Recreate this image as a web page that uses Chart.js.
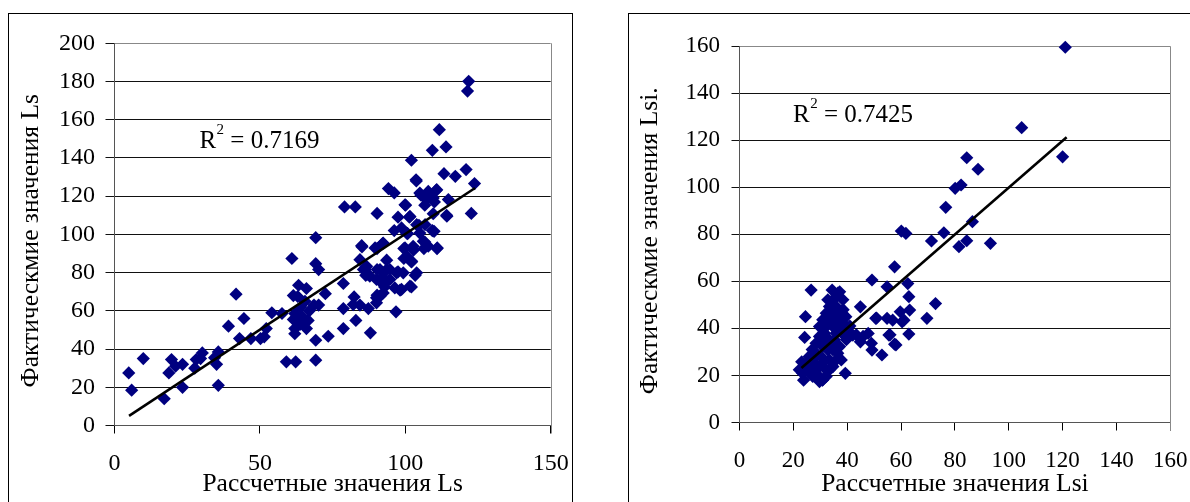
<!DOCTYPE html>
<html><head><meta charset="utf-8">
<script src="https://cdn.jsdelivr.net/npm/chart.js@4.4.1/dist/chart.umd.min.js"></script>
<style>
html,body{margin:0;padding:0;background:#fff;width:1190px;height:502px;overflow:hidden;}
.box{position:absolute;border:1px solid #000;box-sizing:border-box;}
canvas{position:absolute;}
#probe{position:absolute;left:-1000px;top:0;font:24px "Liberation Serif";}
</style></head><body>
<span id="probe">Рассчетные 0123456789</span>
<div class="box" style="left:8px;top:13px;width:565px;height:600px"></div>
<div class="box" style="left:628px;top:13px;width:700px;height:600px"></div>
<canvas id="c1" width="564" height="489" style="left:8px;top:13px"></canvas>
<canvas id="c2" width="562" height="489" style="left:628px;top:13px"></canvas>
<script>
// ---- Left chart data: calculated Ls (x) vs actual Ls (y)
const lsPoints = [
[4.9,27.5],[5.9,18.5],[9.9,35],[17.1,14],[18.7,27.5],[19.6,34.5],[21,31],[23.4,20],[23.4,32],[27.6,30],
[28.1,34.5],[29.6,35],[30.2,38],[34.4,35.5],[35.1,32],[35.7,21],[35.7,38.5],[39.2,52],[41.8,68.7],[43,45.5],
[44.5,56],[46.9,45.5],[50.2,45.5],[51.5,46.4],[52.2,50.7],[54.1,59],[57.6,58.6],[59.1,33.3],[62.3,33.3],[61,87.4],
[62,50.7],[61.5,68],[62,48],[63.3,73.4],[62,58.6],[66,71.7],[64.7,56.8],[66,50.7],[66.6,55],[68.6,63],
[69.2,98.3],[69.2,84.7],[70.2,81.6],[70.2,63],[69.2,34.2],[69.2,44.6],[72.5,69],[73.5,46.7],
[61.5,55.5],[63.8,52.9],[64,62],[67,60],[65.5,65],[63,67.5],[82.1,63.3],[86.1,81.6],
[78.7,74.3],[79.1,114.4],[82.8,114.4],[78.7,61.2],[78.7,50.7],[82.4,67.3],[83,55],[84.4,63],[85.1,93.5],[84.4,86.8],
[86.4,83],[86.4,78.6],[87.3,61.2],[88,48.5],[90.3,111],[90.3,92.6],[90.3,81.6],[90.3,68.2],[92.2,95.2],[92.2,77.8],
[92.9,72.5],[93.6,86.5],[94.2,124],[96.2,121.7],[96.8,59.5],[97.5,80.4],[97.5,109],[96.2,102],[98.2,70.8],[99.5,87.4],
[100.1,115.3],[99.5,92.6],[100.8,100.4],[101.4,109],[102.1,138.8],[102.1,85.6],[102.1,72.5],[102.8,91.7],[103.4,78.6],[103.8,128],
[104.7,104.8],[105.4,120.5],[106.4,92.6],[106.7,96],[106.7,115.3],[108,119.6],[109.3,144],[109.3,102],[110,117],[110.6,123],
[110.9,92.6],[111.7,154.8],[113.3,131.8],[114,145.8],[114.3,109.5],[114.8,118.2],[117.2,130.4],[120.9,133.9],[121.8,180.1],[121.4,175],
[122.7,111],[123.8,126.6],
[91.3,81.6],[94.7,81.6],[99.3,79.9],[103.9,79.9],[90.1,76.4],[92.4,73.8],[98.7,71.2],[101.6,72.9],[91.3,67.7],[90.1,64.2],
[107.9,122.5],[109.6,119],[105,121.6],[103.9,105.1],[106.8,105.1],[105,100.7],[100.5,100.7],[98.7,103.4],[100.5,88.5],[102.2,85.9],
[107.9,93.8],[111,92.9],[106.2,96.4],[102.7,93.8],[99.9,92.9],[89.6,92.9],[92.4,95.5],[101.6,109.4],[109.6,110.8],[109.9,101.6],
[114.2,110],[107.3,118.2],[110.8,123.4],[99.9,115.5],[103.7,128.6],[86.7,83.3],[87.3,79],[85,94.1],
[93.6,81.6],[94.7,76.4],[92.4,69.4],[90.1,66.8],[97,79.9],[96.4,72],[85.6,81.6],[87.8,78.1]
];
const lsTrend = [[5,5],[124,124.3]];
const lsXTicks = [0,50,100,150];
const lsYTicks = [0,20,40,60,80,100,120,140,160,180,200];
const lsXTitle = 'Рассчетные значения Ls';
const lsYTitle = 'Фактическмие значения Ls';
const lsR2 = '0.7169';

// ---- Right chart data: calculated Lsi (x) vs actual Lsi (y)
const lsiPoints = [
[121,159.6],[104.8,125.4],[120,113],[84.4,112.6],[88.6,107.7],[80.1,99.6],[82.3,101],[76.6,91.5],[60.1,81.4],[61.8,80.4],
[75.9,80.7],[71.3,77.2],[86.5,85.4],[81.5,74.8],[84.4,77.3],[93.2,76.2],[57.6,66.2],[49.2,60.6],[54.8,57.7],[62.5,59.1],
[62.9,53.5],[72.8,50.6],[69.6,44.3],[44.9,49.2],[50.6,44.3],[54.8,44.3],[56.9,43.5],[59.7,47.1],[61.1,43.5],[63.2,47.8],
[60.4,42.8],[62.9,37.6],[55.5,37.2],[57.6,33.3],[52.9,28.7],[49.2,30.8],[47.8,37.9],[44.9,34.3],[42.1,37.2],[39.3,20.9],
[26.6,56.3],[24.5,45],[24.2,36.2],[23.1,25.8],[23.8,18],[30.8,18],[34.4,56.3],[37.2,55.6],
[36.5,55],[38.4,52.2],[43.4,37.3],[45.9,36.6],[49,33.7],[55.9,37.3],[58.1,33],[50.9,44.4],
[29.7,40.8],[30.9,43.7],[32.2,46.5],[33.4,49.3],[34.7,52.2],[35.9,49.3],[37.2,46.5],[38.4,43.7],[39.7,40.8],[40.9,38],
[35.9,38],[33.4,35.2],[30.9,32.3],[28.4,29.5],[25.9,28.1],[24.7,25.2],[23.4,21],[27.2,19.6],[30.9,18.1],[32.2,22.4],
[33.4,26.6],[34.7,30.9],[37.2,32.3],[39.7,35.2],[29.7,23.8],[28.4,33.7],[32.2,40.8],[34.7,40.8],[37.2,40.8],[29.7,36.6],
[27.2,26.6],[33.4,22.4],[30.3,28.1],[32.8,30.9],[35.3,35.2],[31.6,38],[34.1,43.7],[36.5,43.7],[35.3,46.5],[32.8,52.2],
[22.2,22.4],[28.4,22.4],[25.9,21],[29,20.3],[25.3,23.1],[36.5,29.5],[37.8,26.6],[35.9,26.6],[34.7,23.8],[32.2,19.6],
[29.7,17.4],[38.5,48],[36,53.5],[31,35],[27,31],[26,24],[31.5,26],[38,38],[39.5,45],[41,41],[28,25],[33,33]
];
const lsiTrend = [[23,23.2],[121.5,121.3]];
const lsiXTicks = [0,20,40,60,80,100,120,140,160];
const lsiYTicks = [0,20,40,60,80,100,120,140,160];
const lsiXTitle = 'Рассчетные значения Lsi';
const lsiYTitle = 'Фактическмие значения Lsi.';
const lsiR2 = '0.7425';

const FAM = '"Liberation Serif", "Times New Roman", "DejaVu Serif", serif';
const NB = '\u00A0\u00A0';
const toXY = a => a.map(p => ({x:p[0], y:p[1]}));

const framePlugin = {
  id: 'frame',
  beforeDatasetsDraw(chart, args, o) {
    const {ctx, chartArea:a} = chart;
    ctx.save();
    ctx.strokeStyle = '#888'; ctx.lineWidth = 1;
    const x = Math.round(a.right) + 0.5;
    ctx.beginPath(); ctx.moveTo(x, a.top); ctx.lineTo(x, a.bottom + o.tick); ctx.stroke();
    ctx.restore();
  },
  afterDatasetsDraw(chart, args, o) {
    const {ctx} = chart;
    const x = chart.scales.x.getPixelForValue(o.x);
    const y = chart.scales.y.getPixelForValue(o.y);
    ctx.save();
    ctx.fillStyle = '#000';
    ctx.textBaseline = 'alphabetic';
    ctx.font = o.size + 'px ' + FAM;
    ctx.fillText('R', x, y);
    let cx = x + ctx.measureText('R').width;
    ctx.font = Math.round(o.size * 0.6) + 'px ' + FAM;
    ctx.fillText('2', cx + 0.5, y - o.size * 0.56);
    cx += ctx.measureText('2').width + 0.5;
    ctx.font = o.size + 'px ' + FAM;
    ctx.fillText(' = ' + o.text, cx, y);
    ctx.restore();
  }
};

function makeChart(id, c) {
  return new Chart(document.getElementById(id), {
    type: 'scatter',
    data: { datasets: [
      { type:'line', data: toXY(c.trend), borderColor:'#000', borderWidth:2.6, pointRadius:0, fill:false, tension:0, clip:false },
      { data: toXY(c.points), pointStyle:'rectRot', pointRadius:6.6, backgroundColor:'#000080', borderWidth:0, pointHoverRadius:6.6, clip:false }
    ]},
    options: {
      responsive:false, animation:false, devicePixelRatio:1,
      layout:{ padding:{ left:0, top:c.padTop, right:c.padRight, bottom:0 } },
      plugins:{ legend:{display:false}, tooltip:{enabled:false},
        frame:{ tick:8, x:c.r2x, y:c.r2y, text:c.r2, size:c.r2fs } },
      scales:{
        x:{ type:'linear', min:c.xTicks[0], max:c.xTicks[c.xTicks.length-1],
          afterBuildTicks: s => { s.ticks = c.xTicks.map(v => ({value:v})); },
          afterFit: s => { s.height = c.xH; s.paddingLeft = 0; s.paddingRight = 0; },
          grid:{ drawOnChartArea:false, drawTicks:true, tickLength:8, color:'#000', tickColor:'#000' },
          border:{ display:true, color:'#555', width:1 },
          ticks:{ color:'#000', font:{family:FAM, size:c.fs}, padding:c.xPad, maxRotation:0, autoSkip:false },
          title:{ display:true, text:c.xTitle, color:'#000', font:{family:FAM, size:c.tfs}, padding:{top:0, bottom:c.xTitlePad} }
        },
        y:{ type:'linear', min:c.yTicks[0], max:c.yTicks[c.yTicks.length-1],
          afterBuildTicks: s => { s.ticks = c.yTicks.map(v => ({value:v})); },
          afterFit: s => { s.width = c.yW; s.paddingTop = 0; s.paddingBottom = 0; },
          grid:{ color: g => (g.tick && g.tick.value === c.yTicks[c.yTicks.length-1]) ? '#888' : '#111', tickColor:'#111', tickLength:c.yTL },
          border:{ display:true, color:'#555', width:1 },
          ticks:{ color:'#000', font:{family:FAM, size:c.fs}, padding:c.yPad, autoSkip:false },
          title:{ display:true, text:c.yTitle + NB, color:'#000', font:{family:FAM, size:c.tfs}, padding:{top:c.yTitlePad, bottom:0} }
        }
      }
    },
    plugins:[framePlugin]
  });
}

function drawAll() {
  makeChart('c1', { points:lsPoints, trend:lsTrend, xTicks:lsXTicks, yTicks:lsYTicks, xTitle:lsXTitle, yTitle:lsYTitle, r2:lsR2,
    fs:24, tfs:25.5, r2fs:25, padTop:30.3, padRight:21.3, xH:76.5, yW:106.5, xPad:16, yPad:10.5, yTL:9, xTitlePad:2.9, yTitlePad:8.2, r2x:29.2, r2y:145.4 });
  makeChart('c2', { points:lsiPoints, trend:lsiTrend, xTicks:lsiXTicks, yTicks:lsiYTicks, xTitle:lsiXTitle, yTitle:lsiYTitle, r2:lsiR2,
    fs:23, tfs:25.5, r2fs:25, padTop:33.3, padRight:19.7, xH:79.5, yW:111.5, xPad:17, yPad:11.5, yTL:8, xTitlePad:2.9, yTitlePad:6.7, r2x:19.9, r2y:127.9 });
}
Chart.defaults.font.family = FAM;
if (document.fonts && document.fonts.load) {
  Promise.all([
    document.fonts.load('24px "Liberation Serif"', 'Рассчетные 0123'),
    document.fonts.load('23px "Liberation Serif"', 'Рассчетные 0123')
  ]).then(drawAll, drawAll);
} else { drawAll(); }
</script>
</body></html>
